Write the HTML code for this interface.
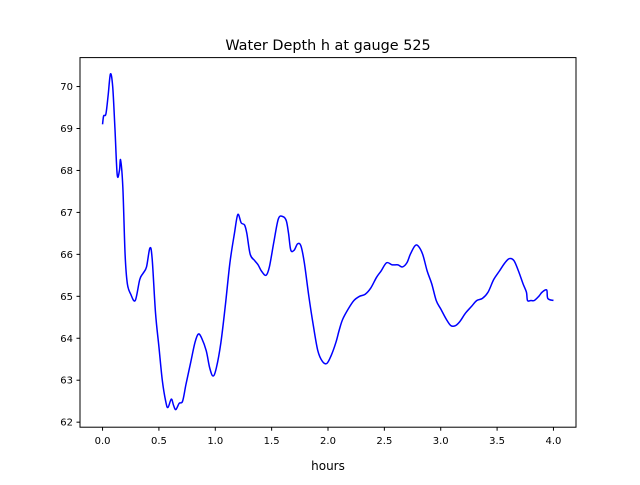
<!DOCTYPE html>
<html><head><meta charset="utf-8"><style>
body{margin:0;background:#fff;}
svg text{font-family:"DejaVu Sans","Liberation Sans",sans-serif;}
</style></head><body>
<svg id="chart" width="640" height="480" xmlns="http://www.w3.org/2000/svg">
<rect width="640" height="480" fill="#fff"/>
<text x="328" y="50" font-size="14.4" text-anchor="middle">Water Depth h at gauge 525</text>
<g id="plot"></g>
<rect x="80" y="57.6" width="496" height="369.6" fill="none" stroke="#000" stroke-width="1"/>
<text x="328" y="470" font-size="12" text-anchor="middle">hours</text>
</svg>
<script>
const hours=[0,0.01,0.03,0.05,0.07,0.09,0.11,0.13,0.15,0.16,0.18,0.2,0.22,0.25,0.29,0.33,0.36,0.39,0.42,0.44,0.47,0.5,0.53,0.56,0.58,0.61,0.63,0.65,0.68,0.71,0.74,0.78,0.82,0.85,0.88,0.92,0.95,0.98,1.01,1.05,1.09,1.13,1.17,1.2,1.23,1.26,1.28,1.31,1.35,1.38,1.41,1.45,1.48,1.52,1.56,1.6,1.63,1.65,1.67,1.7,1.73,1.76,1.79,1.83,1.87,1.91,1.95,1.99,2.03,2.07,2.1,2.13,2.18,2.23,2.28,2.33,2.38,2.43,2.47,2.52,2.57,2.62,2.66,2.7,2.73,2.77,2.8,2.84,2.88,2.92,2.96,3.0,3.05,3.09,3.13,3.17,3.22,3.27,3.32,3.37,3.42,3.47,3.52,3.57,3.61,3.65,3.69,3.73,3.76,3.77,3.8,3.83,3.87,3.9,3.94,3.95,4.0];
const depth=[69.1,69.3,69.35,69.8,70.3,70.0,69.0,67.9,68.0,68.25,67.6,66.0,65.3,65.05,64.9,65.4,65.55,65.7,66.15,65.9,64.6,63.8,63.0,62.5,62.35,62.55,62.4,62.3,62.45,62.5,62.9,63.4,63.9,64.1,64.0,63.7,63.3,63.1,63.3,63.9,64.8,65.8,66.5,66.95,66.75,66.7,66.5,66.0,65.85,65.75,65.6,65.5,65.7,66.3,66.85,66.9,66.8,66.5,66.1,66.1,66.25,66.2,65.8,65.0,64.3,63.7,63.45,63.4,63.6,63.9,64.2,64.45,64.7,64.9,65.0,65.05,65.2,65.45,65.6,65.8,65.75,65.75,65.7,65.8,66.0,66.2,66.2,66.0,65.6,65.3,64.9,64.7,64.45,64.3,64.3,64.4,64.6,64.75,64.9,64.95,65.1,65.4,65.6,65.8,65.9,65.85,65.6,65.3,65.1,64.9,64.9,64.9,65.0,65.1,65.15,64.95,64.9];
const xTicks=[0,0.5,1,1.5,2,2.5,3,3.5,4];
const xTickLabels=["0.0","0.5","1.0","1.5","2.0","2.5","3.0","3.5","4.0"];
const yTicks=[62,63,64,65,66,67,68,69,70];
const NS="http://www.w3.org/2000/svg";
const L=80,R=576,T=57.6,B=427.2;
const xmin=-0.2,xmax=4.2,ymin=61.88,ymax=70.69;
const sx=v=>L+(v-xmin)/(xmax-xmin)*(R-L);
const sy=v=>B-(v-ymin)/(ymax-ymin)*(B-T);
const g=document.getElementById('plot');
function mk(t,a){const e=document.createElementNS(NS,t);for(const k in a)e.setAttribute(k,a[k]);g.appendChild(e);return e;}
xTicks.forEach((v,i)=>{
 const l=mk('line',{x1:sx(v),x2:sx(v),y1:B,y2:B+3.5,stroke:'#000'});
 
 
 const t=mk('text',{x:sx(v),y:B+17,'font-size':10,'text-anchor':'middle'});
 t.textContent=xTickLabels[i];
 
 
});
yTicks.forEach(v=>{
 const l=mk('line',{x1:L-3.5,x2:L,y1:sy(v),y2:sy(v),stroke:'#000'});
 
 
 const t=mk('text',{x:L-7,y:sy(v)+3.5,'font-size':10,'text-anchor':'end'});
 t.textContent=v;
 
 
});
// smooth path (Catmull-Rom)
const P=hours.map((h,i)=>[sx(h),sy(depth[i])]);
let d='M'+P[0][0]+','+P[0][1];
for(let i=0;i<P.length-1;i++){
 const p0=P[Math.max(0,i-1)],p1=P[i],p2=P[i+1],p3=P[Math.min(P.length-1,i+2)];
 const c1=[p1[0]+(p2[0]-p0[0])/6,p1[1]+(p2[1]-p0[1])/6];
 const c2=[p2[0]-(p3[0]-p1[0])/6,p2[1]-(p3[1]-p1[1])/6];
 d+=' C'+c1+' '+c2+' '+p2;
}
const line=mk('path',{d:d,fill:'none',stroke:'#0000ff','stroke-width':1.5});


</script>
</body></html>
